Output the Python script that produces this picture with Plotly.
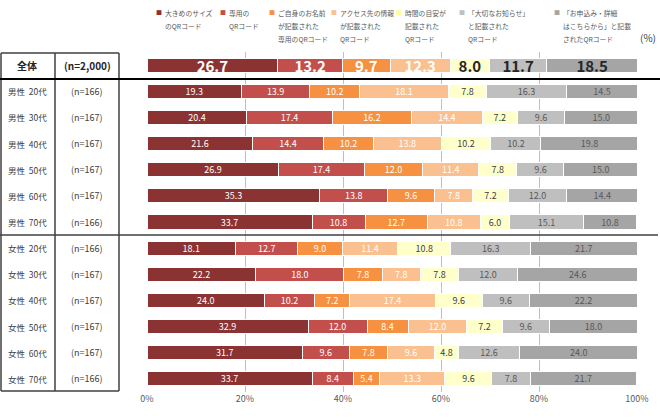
import plotly.graph_objects as go

groups = ["全体", "男性 20代", "男性 30代", "男性 40代", "男性 50代", "男性 60代", "男性 70代",
          "女性 20代", "女性 30代", "女性 40代", "女性 50代", "女性 60代", "女性 70代"]
sample_sizes = ["(n=2,000)", "(n=166)", "(n=167)", "(n=167)", "(n=167)", "(n=167)", "(n=166)",
                "(n=166)", "(n=167)", "(n=167)", "(n=167)", "(n=167)", "(n=166)"]
series_names = ["大きめのサイズのQRコード", "専用のQRコード", "ご自身のお名前が記載された専用のQRコード",
                "アクセス先の情報が記載されたQRコード", "時間の目安が記載されたQRコード",
                "「大切なお知らせ」と記載されたQRコード", "「お申込み・詳細はこちらから」と記載されたQRコード"]
legend_lines = [["大きめのサイズ", "のQRコード"], ["専用の", "QRコード"],
                ["ご自身のお名前", "が記載された", "専用のQRコード"],
                ["アクセス先の情報", "が記載された", "QRコード"],
                ["時間の目安が", "記載された", "QRコード"],
                ["「大切なお知らせ」", "と記載された", "QRコード"],
                ["「お申込み・詳細", "はこちらから」と記載", "されたQRコード"]]
s1 = [26.7, 19.3, 20.4, 21.6, 26.9, 35.3, 33.7, 18.1, 22.2, 24.0, 32.9, 31.7, 33.7]
s2 = [13.2, 13.9, 17.4, 14.4, 17.4, 13.8, 10.8, 12.7, 18.0, 10.2, 12.0, 9.6, 8.4]
s3 = [9.7, 10.2, 16.2, 10.2, 12.0, 9.6, 12.7, 9.0, 7.8, 7.2, 8.4, 7.8, 5.4]
s4 = [12.3, 18.1, 14.4, 13.8, 11.4, 7.8, 10.8, 11.4, 7.8, 17.4, 12.0, 9.6, 13.3]
s5 = [8.0, 7.8, 7.2, 10.2, 7.8, 7.2, 6.0, 10.8, 7.8, 9.6, 7.2, 4.8, 9.6]
s6 = [11.7, 16.3, 9.6, 10.2, 9.6, 12.0, 15.1, 16.3, 12.0, 9.6, 9.6, 12.6, 7.8]
s7 = [18.5, 14.5, 15.0, 19.8, 15.0, 14.4, 10.8, 21.7, 24.6, 22.2, 18.0, 24.0, 21.7]
x_ticks = [0, 20, 40, 60, 80, 100]
x_tick_labels = ["0%", "20%", "40%", "60%", "80%", "100%"]

series = [s1, s2, s3, s4, s5, s6, s7]
colors = ["#8B3232", "#C24F4C", "#F59140", "#FAC08F", "#FFFFCC", "#BFBFBF", "#A5A5A5"]
text_colors = ["#FFFFFF", "#FFFFFF", "#FFFFFF", "#FFFFFF", "#404040", "#595959", "#595959"]
FONT = "Noto Sans CJK JP, Verdana, sans-serif"

W, H = 660, 418
ML, MR, MT, MB = 147, 23, 52, 26
PW, PH = W - ML - MR, H - MT - MB


def px(xp):
    return (xp - ML) / PW


def py(yp):
    return (H - MB - yp) / PH


fig = go.Figure()
for k, (name, vals) in enumerate(zip(series_names, series)):
    texts = [("<b>%.1f</b>" % v) if i == 0 else ("%.1f" % v) for i, v in enumerate(vals)]
    sizes = [15 if i == 0 else 9 for i in range(len(vals))]
    tcol = [("#262626" if k >= 4 else "#FFFFFF") if i == 0 else text_colors[k] for i in range(len(vals))]
    fig.add_trace(go.Bar(
        y=groups, x=vals, orientation="h", name=name,
        marker=dict(color=colors[k], line=dict(color="#FFFFFF", width=1)),
        text=texts, texttemplate="%{text}", textposition="inside",
        insidetextanchor="middle", textangle=0, constraintext="none",
        textfont=dict(size=sizes, color=tcol, family=FONT),
        showlegend=False, hoverinfo="x+y+name",
    ))

fig.update_layout(
    barmode="stack", bargap=0.46,
    width=W, height=H,
    margin=dict(l=ML, r=MR, t=MT, b=MB),
    plot_bgcolor="#FFFFFF", paper_bgcolor="#FFFFFF",
    font=dict(family=FONT, color="#404040"),
    xaxis=dict(range=[0, 100], tickvals=x_ticks, ticktext=x_tick_labels,
               showgrid=True, gridcolor="#BFBFBF", gridwidth=1, zeroline=False,
               tickfont=dict(size=9, color="#595959"), ticks="", showline=False),
    yaxis=dict(categoryorder="array", categoryarray=groups, range=[12.5, -0.5],
               showticklabels=False, showgrid=False, zeroline=False),
)

# Table on the left
line_col = "#404040"


def hline(x0, x1, y, color=line_col, w=1.5):
    return dict(type="line", xref="paper", yref="paper", x0=px(x0), x1=px(x1), y0=py(y), y1=py(y),
                line=dict(color=color, width=w))


def vline(x, y0, y1, color=line_col, w=1.5):
    return dict(type="line", xref="paper", yref="paper", x0=px(x), x1=px(x), y0=py(y0), y1=py(y1),
                line=dict(color=color, width=w))


shapes = [
    hline(1, 119, 53), hline(1, 119, 391),
    vline(1, 53, 391), vline(55, 53, 391), vline(119, 53, 391),
    hline(0, 660, 79, color="#000000", w=2.2),
    hline(0, 658, 235, color=line_col, w=1.5),
]
annotations = []
for i, (g, n) in enumerate(zip(groups, sample_sizes)):
    if i == 0:
        annotations.append(dict(x=px(27), y=g, xref="paper", yref="y", text="<b>全体</b>", showarrow=False,
                                xanchor="center", yanchor="middle",
                                font=dict(size=10, color="#262626", family=FONT)))
        annotations.append(dict(x=px(87), y=g, xref="paper", yref="y", text="<b>%s</b>" % n, showarrow=False,
                                xanchor="center", yanchor="middle",
                                font=dict(size=10, color="#262626", family=FONT)))
    else:
        annotations.append(dict(x=px(27), y=g, xref="paper", yref="y", text=g.replace(" ", "  "), showarrow=False,
                                xanchor="center", yanchor="middle",
                                font=dict(size=8.5, color="#404040", family=FONT)))
        annotations.append(dict(x=px(87), y=g, xref="paper", yref="y", text=n, showarrow=False,
                                xanchor="center", yanchor="middle",
                                font=dict(size=9, color="#404040", family=FONT)))

# Legend (drawn as text)
legend_x = [159, 223, 272, 334, 399, 462, 557]
legend_text_x = [163, 227, 276, 338, 403, 466, 561]
line_y = [13, 26, 39]
for k, lines in enumerate(legend_lines):
    annotations.append(dict(x=px(legend_x[k]), y=py(line_y[0]), xref="paper", yref="paper",
                            text="■", showarrow=False, xanchor="center", yanchor="middle",
                            font=dict(size=6, color=colors[k] if k != 4 else "#FFFF99", family=FONT)))
    for j, t in enumerate(lines):
        annotations.append(dict(x=px(legend_text_x[k]), y=py(line_y[j]),
                                xref="paper", yref="paper", text=t, showarrow=False,
                                xanchor="left", yanchor="middle",
                                font=dict(size=6.8, color="#595959", family=FONT)))
annotations.append(dict(x=px(638), y=py(38), xref="paper", yref="paper",
                        text="(%)", showarrow=False, xanchor="left", yanchor="middle",
                        font=dict(size=10, color="#404040", family=FONT)))

fig.update_layout(shapes=shapes, annotations=annotations)
fig.write_html("out.html", config={"displayModeBar": False},
               post_script="document.body.style.margin='0';document.body.style.overflow='hidden';")
